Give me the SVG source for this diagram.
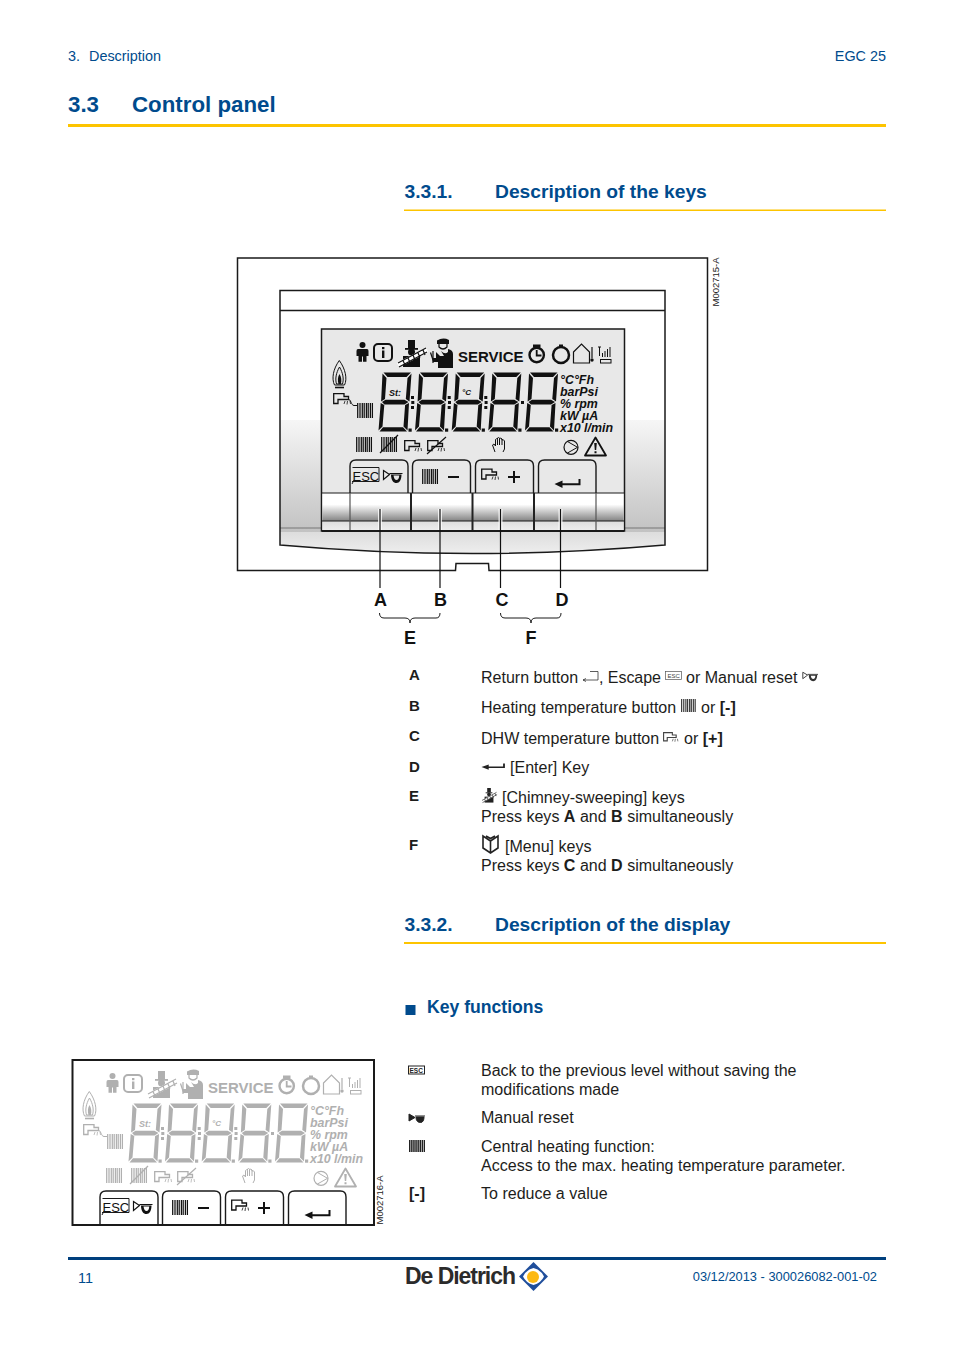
<svg xmlns="http://www.w3.org/2000/svg" width="954" height="1350" viewBox="0 0 954 1350">
<style>
text{font-family:"Liberation Sans",Arial,sans-serif}
.b{fill:#1d1d1b;font-size:16.05px}
.bb{font-weight:bold}
.k{fill:#1d1d1b;font-size:15px;font-weight:bold}
.blue{fill:#004b8d}
.h2{font-size:19.25px;font-weight:bold;fill:#004b8d}
.big{font-size:18px;font-weight:bold;fill:#111}
.u{font-size:12.4px;font-weight:bold;font-style:italic;fill:currentColor}
.sv{font-size:15px;font-weight:bold;fill:currentColor}
.st{font-size:9px;font-weight:bold;font-style:italic;fill:currentColor}
.code{font-size:9.5px;fill:#222}
.f{fill:currentColor}
.s{fill:none;stroke:currentColor}
.ln{fill:none;stroke:#1a1a1a}
.dark{color:#111}
.gray{color:#b0b0b0}
</style>
<defs>
<linearGradient id="fr" x1="0" y1="0" x2="0" y2="1"><stop offset="0" stop-color="#fff"/><stop offset=".42" stop-color="#fff"/><stop offset=".92" stop-color="#c2c2c2"/><stop offset=".92" stop-color="#ddd"/><stop offset="1" stop-color="#eee"/></linearGradient>
<linearGradient id="ks" x1="0" y1="0" x2="0" y2="1"><stop offset="0" stop-color="#fff"/><stop offset=".3" stop-color="#fff"/><stop offset=".73" stop-color="#858585"/><stop offset=".74" stop-color="#ddd"/><stop offset="1" stop-color="#eee"/></linearGradient>
<g id="dig">
<path class="f" d="M6 0H33.5L29 4.5H10ZM5 1L9 5.5L7.5 26.500L3.600 29ZM34 1L30 5.500L28.300 26.500L32 29ZM4.500 29.500L8 27.200H27L31 29.500L27 32H7ZM3.200 30.500L6.800 32.500L5 54L1 58ZM31.500 30.500L27.600 32.500L26 54L30 58ZM2 59L5.500 54.800H25.500L29.500 59Z"/>
<rect class="f" x="31" y="56" width="3.200" height="3.200"/>
</g>
<g id="colon"><rect class="f" width="3" height="3"/><rect class="f" x=".3" y="5" width="3" height="3"/><rect class="f" y="10" width="3" height="3"/></g>
<g id="rad"><path class="s" stroke-width="1.25" d="M.7 0V15M3 0V15M5.3 0V15M7.2 0V15M9.4 0V15M11.2 0V15M13.4 0V15M15.4 0V15"/></g>
<g id="tap"><path class="s" stroke-width="1.3" d="M.7 .7H11V3.500H15.500V6.500H5V10.500H.7Z"/><path class="s" stroke-width=".8" d="M12 8L11 11M14.500 8L14 11.500M17 8L17.500 11"/></g>
<g id="horn"><path class="s" stroke-width="1.200" d="M1 1L7 5L1 10ZM7 4H20"/><path class="f" d="M8.500 5H19C19 10 17 13.500 14 13.500C11 13.500 8.500 11 8.500 5ZM11 6C11.500 9 12.500 10.500 14 10.500C15.500 10.500 16.500 9 16.800 6Z" fill-rule="evenodd"/></g>
<g id="enter"><path class="f" d="M0 5L8 1.500V4.200H24V0H26V6.300H8V9Z"/></g>
<g id="sweep"><rect class="f" x="10" y="0" width="7" height="8"/><rect class="f" x="7" y="8" width="13" height="1.800"/><circle class="f" cx="13.500" cy="12" r="3.500"/><rect class="f" x="5" y="16" width="17" height="11"/><path stroke="#fff" stroke-width="5" d="M0 25L29 10"/><path class="s" stroke-width="1.200" d="M0 23L28 8M1 27L29 12M5 20.500L7 25M10 18L12 22.500M15 15L17 20M20 13L22 17.500M25 10L27 15"/></g>
<g id="menu"><path fill="none" stroke="#222" stroke-width="1.600" d="M9.500 6L2 1V13L9.500 18L17 13V1ZM9.500 6V18M5 1L9.500 3.500L14 1"/></g>
<g id="icons">
<circle class="f" cx="362.500" cy="345" r="3"/><path class="f" d="M358 349H367Q368.500 349 368.500 351V356H366.500V361.700H363V356.500H362V361.700H358.500V356H356.500V351Q356.500 349 358 349Z"/>
<rect class="s" stroke-width="2" x="374" y="344" width="18" height="17" rx="4"/><rect class="f" x="382" y="347" width="2.400" height="2.200"/><rect class="f" x="382" y="350.500" width="2.400" height="7.500"/>
<use href="#sweep" transform="translate(398 340)"/>
<path class="f" d="M437 340.500Q443 337 449 340V344H437ZM444 356H440L436 352V358H433L431 352L430 353L433 362H438V368H453V354Q453 350 448 349V352Q445 355 441 351Z"/><path class="s" stroke-width="1.200" d="M439 344V347Q443 351 447 347V344M433 351V363"/>
<circle class="s" stroke-width="2.400" cx="536.700" cy="355" r="7.200"/><rect class="f" x="533" y="344.500" width="7.500" height="2.500"/><path class="s" stroke-width="1.800" d="M536.700 350V355.500H541.500"/>
<circle class="s" stroke-width="2.500" cx="561" cy="355" r="8"/><rect class="f" x="559" y="344.500" width="4" height="3"/>
<path class="s" stroke-width="1.200" d="M573.500 352L581.500 344L589.500 352V363H573.500Z"/>
<path class="s" stroke-width="1.200" d="M592 347V358"/><circle class="f" cx="592" cy="360" r="1.700"/>
<path class="s" stroke-width="1" d="M598 347H601M599.500 347V356"/><path class="f" d="M602 353h1v4h-1ZM604.500 351h1v6h-1ZM607 349h1v8h-1ZM609.500 347h1v10h-1Z"/><rect class="s" stroke-width="1" x="600.500" y="359.500" width="10.500" height="3.500"/>
<path class="s" stroke-width="1" d="M339.300 360.500C333 369 331.500 379 334.500 385H344.500C347.500 379 345.500 369 339.300 360.500Z"/>
<path class="s" stroke-width="1" d="M339.500 367C336 373 335 379 336.500 384H342.500C344 379 343 373 339.500 367Z"/>
<path class="f" d="M339.500 374C337.500 377 337.500 381 338.500 384H340.800C341.800 381 341.500 377 339.500 374Z"/><path class="s" stroke-width="1.600" d="M335 387.500H344"/>
<use href="#tap" transform="translate(333 393)"/>
<path class="s" stroke-width="1" d="M348 399C351 399 351 405.500 354 405.500H357"/>
<use href="#rad" transform="translate(357 403)"/>
<use href="#rad" transform="translate(356 437)"/>
<use href="#rad" transform="translate(381 437)"/><path class="s" stroke-width="1.200" d="M380 453L398 435"/>
<use href="#tap" transform="translate(404 440)"/>
<use href="#tap" transform="translate(427 440)"/><path class="s" stroke-width="1.200" d="M427 454L446 437"/>
<path class="s" stroke-width="1" d="M495 452L492.500 445L494 444L495.500 446V439.500Q496.500 438 497.500 439.500V438Q498.500 437 499.500 438V438.500Q501 437.500 502 439V440Q503.500 439 504.500 441V449L503 452M497.500 439.500V445M499.500 438.500V445M502 439V445"/>
<circle class="s" stroke-width="1.200" cx="571" cy="447.300" r="7"/><path class="s" stroke-width="1" d="M567.500 441.500L577.500 447.300L567.500 453"/>
<path class="s" stroke-width="1.800" stroke-linejoin="round" d="M595.500 437.500L606 455.500H585Z"/><path class="f" d="M594.200 443H596.800L596.200 450H594.800ZM594.500 451.200H596.500V453.300H594.500Z"/>
</g>
<g id="segs">
<use href="#dig" transform="translate(377.500 372.500)"/><use href="#dig" transform="translate(414 372.500)"/><use href="#dig" transform="translate(450.700 372.500)"/><use href="#dig" transform="translate(487.300 372.500)"/><use href="#dig" transform="translate(524 372.500)"/>
<use href="#colon" transform="translate(411 396)"/><use href="#colon" transform="translate(447.700 396)"/><use href="#colon" transform="translate(484.300 396)"/><rect class="f" x="521" y="401" width="3" height="3"/>
</g>
<g id="keyb">
<path fill="none" stroke="#1a1a1a" stroke-width="1.400" d="M350 493V466Q350 460 356 460H402Q408 460 408 466V493M412.500 493V466Q412.500 460 418.500 460H464.500Q470.500 460 470.500 466V493M475.500 493V466Q475.500 460 481.500 460H527.500Q533.500 460 533.500 466V493M538.500 493V466Q538.500 460 544.500 460H590.500Q596 460 596 466V493"/>
<path fill="none" stroke="#1a1a1a" stroke-width="1" d="M352.500 467.500H379V481.500H352M354 480L352 484"/>
<use href="#horn" transform="translate(382.500 469.500)" color="#111"/>
<use href="#rad" transform="translate(422 469)" color="#111"/>
<path d="M448 477H459" stroke="#111" stroke-width="2"/>
<use href="#tap" transform="translate(481 468.500)" color="#111"/>
<path d="M508 477H520M514 471V483" stroke="#111" stroke-width="2"/>
<use href="#enter" transform="translate(554.500 479)" color="#111"/>
</g>
</defs>

<g id="header">
<text x="68" y="61" font-size="14.400" class="blue">3.</text>
<text x="89" y="61" font-size="14.400" class="blue">Description</text>
<text x="886" y="61" font-size="14.400" text-anchor="end" class="blue">EGC 25</text>
<text x="68" y="112" font-size="22.300" class="blue bb">3.3</text>
<text x="132" y="112" font-size="22.300" class="blue bb">Control panel</text>
<rect x="68" y="124" width="818" height="3" fill="#fdc400"/>
<text x="404.500" y="198" class="h2">3.3.1.</text>
<text x="495" y="198" class="h2">Description of the keys</text>
<rect x="404" y="209.500" width="482" height="1.500" fill="#fdc400"/>
</g>

<g id="panel1">
<rect x="237.500" y="258" width="470" height="312.500" fill="#fff"/>
<path id="frame" d="M280 290H665V545Q472 562 280 545Z" fill="url(#fr)"/>
<rect x="280" y="290" width="385" height="130" fill="#fff"/>
<path d="M280 528H321M624 528H665" stroke="#777" stroke-width="1"/>
<path class="ln" stroke-width="1.500" d="M280 290.500H665V545Q472 562 280 545ZM280 310.500H665"/>
<path class="ln" stroke-width="1.500" d="M237.500 258H707.500V570.500H489L488.500 563.500H456L455.500 570.500H237.500Z"/>
<rect x="321.500" y="329" width="303" height="202" fill="#e8e8e8" stroke="#1a1a1a" stroke-width="1.500"/>
<rect x="322.500" y="493" width="301" height="38" fill="url(#ks)"/>
<path class="ln" stroke-width="1.200" d="M322 493H624M322 521H624"/>
<path d="M350 493V531M596 493V531" stroke="#555" stroke-width="1.200"/>
<path d="M411 493V531M472.500 493V531M534 493V531" stroke="#222" stroke-width="2"/>
<path d="M322 531H624" stroke="#1a1a1a" stroke-width="2"/>
<g class="dark"><use href="#icons"/><use href="#segs"/><use href="#keyb"/>
<text x="458" y="362" class="sv">SERVICE</text>
<text x="389" y="396" class="st">St:</text>
<text x="462" y="395" font-size="8" font-weight="bold" font-style="italic" fill="currentColor">°C</text>
<text x="560" y="384" class="u">°C°Fh</text><text x="560" y="396" class="u">barPsi</text><text x="560" y="408" class="u">% rpm</text><text x="560" y="420" class="u">kW µA</text><text x="560" y="432" class="u">x10 l/min</text>
<text x="352.500" y="480.500" font-size="13" fill="#111">ESC</text>
</g>
<text transform="translate(719 306.500) rotate(-90)" class="code">M002715-A</text>
</g>

<g id="connectors">
<path d="M380 509V530M440 509V530M500.500 509V530M560.500 509V530" stroke="#fff" stroke-width="4" opacity=".8"/>
<path d="M380 509V588M440 509V588M500.500 509V588M560.500 509V588" stroke="#111" stroke-width="1.200"/>
<path class="ln" stroke-width="1" d="M379.500 613Q379.500 618 384 618H405Q410 618 410 623Q410 618 415 618H436Q440 618 440 613M500.500 613Q500.500 618 505 618H526Q531 618 531 623Q531 618 536 618H557Q561 618 561 613"/>
</g>
<g id="labels">
<text x="380.500" y="606" text-anchor="middle" class="big">A</text>
<text x="440.500" y="606" text-anchor="middle" class="big">B</text>
<text x="502" y="606" text-anchor="middle" class="big">C</text>
<text x="562" y="606" text-anchor="middle" class="big">D</text>
<text x="410" y="643.500" text-anchor="middle" class="big">E</text>
<text x="531" y="643.500" text-anchor="middle" class="big">F</text>
</g>

<g id="legend">
<text x="409" y="679.500" class="k">A</text><text x="409" y="710.500" class="k">B</text><text x="409" y="740.500" class="k">C</text><text x="409" y="771.500" class="k">D</text><text x="409" y="800.500" class="k">E</text><text x="409" y="849.500" class="k">F</text>
<text x="481" y="683" class="b">Return button</text>
<path d="M583 680H598V671.500H590M583 680L586 678.500M583 680L586 681.500" fill="none" stroke="#333" stroke-width=".8"/>
<text x="599" y="683" class="b" textLength="62">, Escape</text>
<rect x="665.500" y="671.500" width="16" height="8" fill="none" stroke="#555" stroke-width=".7"/><text x="667.500" y="678" font-size="6" fill="#444">ESC</text>
<text x="686" y="683" class="b">or Manual reset</text>
<use href="#horn" transform="translate(802 671.500) scale(.8 .72)" color="#333"/>
<text x="481" y="713" class="b">Heating temperature button</text>
<use href="#rad" transform="translate(681 699) scale(.92 .87)" color="#333"/>
<text x="701" y="713" class="b">or <tspan class="bb">[-]</tspan></text>
<text x="481" y="744" class="b">DHW temperature button</text>
<use href="#tap" transform="translate(663 732) scale(.85 .85)" color="#444"/>
<text x="684" y="744" class="b">or <tspan class="bb">[+]</tspan></text>
<use href="#enter" transform="translate(481.500 763.500) scale(.9 .7)" color="#222"/>
<text x="510" y="773" class="b">[Enter] Key</text>
<use href="#sweep" transform="translate(482 788) scale(.52 .54)" color="#222"/>
<text x="502" y="803" class="b">[Chimney-sweeping] keys</text>
<text x="481" y="822" class="b">Press keys <tspan class="bb">A</tspan> and <tspan class="bb">B</tspan> simultaneously</text>
<use href="#menu" transform="translate(481 835)"/>
<text x="505" y="851.500" class="b">[Menu] keys</text>
<text x="481" y="871" class="b">Press keys <tspan class="bb">C</tspan> and <tspan class="bb">D</tspan> simultaneously</text>
</g>

<g id="section2">
<text x="404.500" y="931" class="h2">3.3.2.</text>
<text x="495" y="931" class="h2">Description of the display</text>
<rect x="404" y="942" width="482" height="2" fill="#fdc400"/>
<rect x="405.500" y="1005" width="10" height="10" fill="#004b8d"/>
<text x="427" y="1013" class="h2" style="font-size:17.600px">Key functions</text>
</g>

<g id="panel2">
<rect x="72.500" y="1060" width="301.500" height="165" fill="#fff" stroke="#1a1a1a" stroke-width="2"/>
<g transform="translate(-250 731)" class="gray">
<use href="#icons"/><use href="#segs"/><use href="#keyb"/>
<text x="458" y="362" class="sv">SERVICE</text>
<text x="389" y="396" class="st">St:</text>
<text x="462" y="395" font-size="8" font-weight="bold" font-style="italic" fill="currentColor">°C</text>
<text x="560" y="384" class="u">°C°Fh</text><text x="560" y="396" class="u">barPsi</text><text x="560" y="408" class="u">% rpm</text><text x="560" y="420" class="u">kW µA</text><text x="560" y="432" class="u">x10 l/min</text>
<text x="352.500" y="480.500" font-size="13" fill="#111">ESC</text>
</g>
<text transform="translate(383 1224.500) rotate(-90)" class="code">M002716-A</text>
</g>

<g id="functions">
<g transform="translate(408 1065.500)"><rect x=".5" y=".5" width="16" height="8" fill="none" stroke="#222" stroke-width="1"/><text x="1.500" y="7" font-size="6.500" font-weight="bold" fill="#222">ESC</text></g>
<text x="481" y="1076" class="b">Back to the previous level without saving the</text>
<text x="481" y="1095" class="b">modifications made</text>
<g transform="translate(408 1113)"><path d="M1 1L7 4.500L1 8ZM7 3H17M8 4C8 8 10 9.500 12.500 9.500C15 9.500 16 7 16 4Z" fill="#222" stroke="#222" stroke-width="1"/></g>
<text x="481" y="1123" class="b">Manual reset</text>
<path d="M409 1146H425" stroke="#222" stroke-width="12" stroke-dasharray="1.500 .6" fill="none"/>
<text x="481" y="1152" class="b">Central heating function:</text>
<text x="481" y="1171" class="b">Access to the max. heating temperature parameter.</text>
<text x="409" y="1199" class="b bb">[-]</text>
<text x="481" y="1199" class="b">To reduce a value</text>
</g>

<g id="footer">
<rect x="68" y="1257" width="818" height="3" fill="#003f7d"/>
<text x="78" y="1283" font-size="14.400" class="blue">11</text>
<text x="877" y="1281" font-size="12.850" text-anchor="end" class="blue">03/12/2013 - 300026082-001-02</text>
<text x="405" y="1284" font-size="23" font-weight="bold" fill="#2b2b2b" textLength="111" lengthAdjust="spacing">De Dietrich</text>
<path d="M533.500 1262L548 1276.500L533.500 1291L519 1276.500Z" fill="#1f4e9b"/>
<path d="M533.500 1268Q541 1270 544 1276.500Q541 1283 533.500 1285Q526 1283 523 1276.500Q526 1270 533.500 1268Z" fill="#fff"/>
<circle cx="533" cy="1277" r="6" fill="#fdb913"/>
</g>
</svg>
